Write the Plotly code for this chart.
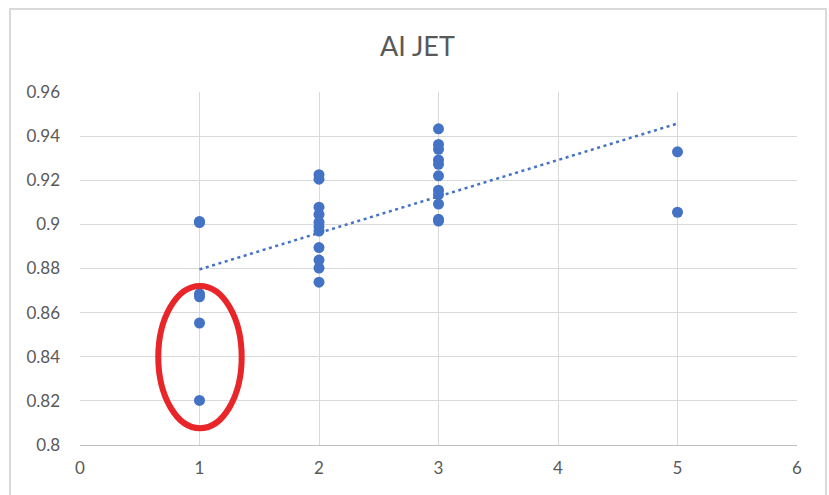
import numpy as np
import plotly.graph_objects as go

# Scores grouped by x value
x_groups = [1, 2, 3, 5]
y_at_1 = [0.9013, 0.9008, 0.8685, 0.8672, 0.8553, 0.8202]
y_at_2 = [0.9225, 0.9205, 0.9078, 0.9045, 0.9010, 0.8990, 0.8970,
          0.8895, 0.8838, 0.8802, 0.8738]
y_at_3 = [0.9433, 0.9362, 0.9340, 0.9292, 0.9272, 0.9220, 0.9155,
          0.9135, 0.9092, 0.9023, 0.9015]
y_at_5 = [0.9329, 0.9055]

x_ticks = [0, 1, 2, 3, 4, 5, 6]
y_ticks = [0.8, 0.82, 0.84, 0.86, 0.88, 0.9, 0.92, 0.94, 0.96]
y_tick_text = ["0.8", "0.82", "0.84", "0.86", "0.88", "0.9", "0.92", "0.94", "0.96"]

xs, ys = [], []
for xv, grp in zip(x_groups, [y_at_1, y_at_2, y_at_3, y_at_5]):
    xs += [xv] * len(grp)
    ys += grp
xs = np.array(xs, dtype=float)
ys = np.array(ys, dtype=float)

# Linear trendline (least squares) spanning the data range
slope, intercept = np.polyfit(xs, ys, 1)
tx = np.array([xs.min(), xs.max()])
ty = slope * tx + intercept

BLUE = "#4472C4"
GRAY_TXT = "#595959"
GRID = "#D9D9D9"
FONT = "Lato, Calibri, sans-serif"

fig = go.Figure()
fig.add_trace(go.Scatter(
    x=xs, y=ys, mode="markers",
    marker=dict(color=BLUE, size=11, line=dict(width=0)),
    showlegend=False, hoverinfo="x+y",
))
fig.add_trace(go.Scatter(
    x=tx, y=ty, mode="lines",
    line=dict(color=BLUE, width=2.5, dash="3px,3.6px"),
    showlegend=False, hoverinfo="skip",
))

# Red highlight ellipse around the low group at x = 1
fig.add_shape(type="circle", xref="x", yref="y",
              x0=0.655, x1=1.353, y0=0.8076, y1=0.8721,
              line=dict(color="#E8262A", width=6), layer="above")

# Chart frame
fig.add_shape(type="rect", xref="paper", yref="paper",
              x0=-0.0976, x1=1.0405, y0=-0.3, y1=1.2351,
              line=dict(color=GRID, width=2), layer="below")

fig.update_layout(
    width=829, height=495,
    margin=dict(l=80, r=32, t=92, b=50),
    paper_bgcolor="white", plot_bgcolor="white",
    font=dict(family=FONT, color=GRAY_TXT),
    title=dict(text="AI JET", x=0.5035, xref="container", xanchor="center",
               y=1 - 47 / 495, yref="container", yanchor="middle",
               font=dict(size=27, color=GRAY_TXT, family=FONT)),
    xaxis=dict(range=[0, 6], tickvals=x_ticks, showgrid=True, gridcolor=GRID,
               gridwidth=1, zeroline=False, showline=True, linecolor="#BFBFBF",
               linewidth=1, mirror=False, ticks="", ticklabelstandoff=8,
               tickfont=dict(size=17, color=GRAY_TXT, family=FONT)),
    yaxis=dict(range=[0.8, 0.96], tickvals=y_ticks, ticktext=y_tick_text,
               showgrid=True, gridcolor=GRID, gridwidth=1, zeroline=False,
               showline=False, ticks="", ticklabelstandoff=19,
               tickfont=dict(size=17, color=GRAY_TXT, family=FONT)),
)

fig.write_html("out.html")
